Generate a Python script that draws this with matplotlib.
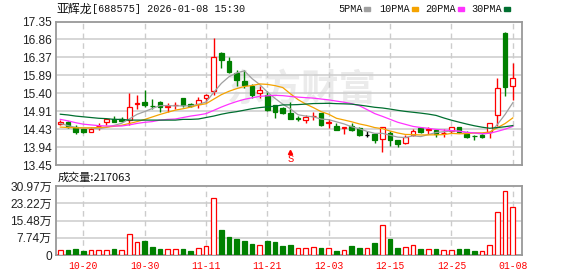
import numpy as np
import pandas as pd
import matplotlib
matplotlib.use("Agg")
import matplotlib.pyplot as plt
from matplotlib.patches import Rectangle

# daily K-line, 60 trading days (2025-10-15 .. 2026-01-08)
opens = [14.56, 14.63, 14.49, 14.42, 14.35, 14.50, 14.63, 14.71, 14.70, 14.67,
         15.12, 15.17, 15.06, 15.17, 15.02, 15.08, 15.27, 15.10, 15.12, 15.27,
         15.45, 16.50, 16.28, 15.95, 15.74, 15.59, 15.41, 15.36, 15.07, 15.01,
         14.85, 14.72, 14.67, 14.77, 14.85, 14.60, 14.52, 14.45, 14.51, 14.45,
         14.27, 14.29, 14.16, 14.32, 14.12, 14.05, 14.27, 14.45, 14.40, 14.40,
         14.31, 14.38, 14.47, 14.29, 14.24, 14.27, 14.35, 14.80, 17.04, 15.61]
highs = [14.68, 14.65, 14.54, 14.45, 14.48, 14.60, 14.70, 14.79, 14.76, 15.41,
         15.36, 15.48, 15.25, 15.18, 15.14, 15.17, 15.28, 15.13, 15.29, 15.37,
         16.91, 16.51, 16.39, 16.04, 16.02, 15.65, 15.61, 15.47, 15.08, 15.03,
         15.16, 14.77, 14.81, 14.88, 14.86, 14.70, 14.59, 14.48, 14.58, 14.48,
         14.38, 14.32, 14.48, 14.37, 14.14, 14.26, 14.43, 14.47, 14.48, 14.43,
         14.43, 14.49, 14.49, 14.38, 14.27, 14.31, 14.60, 15.81, 17.06, 16.23]
lows = [14.53, 14.45, 14.29, 14.31, 14.35, 14.40, 14.53, 14.62, 14.61, 14.54,
        14.98, 15.03, 14.98, 14.89, 14.89, 14.98, 15.03, 15.03, 15.00, 15.16,
        15.36, 16.08, 15.96, 15.61, 15.54, 15.27, 15.28, 14.92, 14.72, 14.83,
        14.69, 14.65, 14.60, 14.67, 14.50, 14.45, 14.40, 14.29, 14.38, 14.25,
        14.20, 14.04, 13.80, 13.96, 13.94, 14.03, 14.25, 14.33, 14.30, 14.22,
        14.20, 14.32, 14.33, 14.18, 14.13, 14.18, 14.18, 14.52, 15.32, 15.22]
closes = [14.63, 14.49, 14.36, 14.35, 14.44, 14.52, 14.69, 14.63, 14.64, 15.03,
          15.14, 15.07, 15.05, 15.03, 15.04, 15.09, 15.07, 15.06, 15.23, 15.36,
          16.39, 16.30, 15.97, 15.75, 15.63, 15.34, 15.50, 14.94, 14.89, 14.85,
          14.70, 14.70, 14.76, 14.79, 14.54, 14.62, 14.41, 14.47, 14.40, 14.27,
          14.27, 14.14, 14.47, 14.14, 14.02, 14.21, 14.38, 14.36, 14.42, 14.29,
          14.33, 14.47, 14.36, 14.20, 14.23, 14.20, 14.60, 15.54, 15.56, 15.81]

# volume in 万股, colour of each volume bar (r = up, g = down)
vols = [2.2, 2.2, 2.7, 1.9, 2.2, 2.2, 2.2, 2.7, 2.2, 9.4,
        5.8, 6.3, 3.7, 2.7, 2.5, 2.5, 2.7, 1.9, 3.0, 3.9,
        25.4, 11.2, 8.1, 7.2, 6.3, 5.1, 4.3, 6.3, 5.8, 4.2,
        4.5, 3.0, 3.0, 3.4, 3.0, 3.0, 1.8, 2.4, 3.9, 3.1,
        3.3, 5.4, 13.3, 7.0, 3.0, 3.7, 4.3, 2.5, 2.5, 2.5,
        2.1, 2.1, 2.5, 2.8, 1.8, 1.6, 4.3, 19.3, 28.6, 21.71]
vol_dir = "rgggrrrgrr" "rgggrrggrr" "rgggggrggg" "grrrgrgrgg" "rgrggrrgrg" "rrgggrrrrr"

# moving averages before enough bars are on screen
ma5_head = [14.58, 14.52, 14.47, 14.45]
ma10_head = [14.48, 14.47, 14.46, 14.46, 14.46, 14.47, 14.48, 14.50, 14.53]
ma20_head = [14.69, 14.65, 14.60, 14.56, 14.54, 14.52, 14.51, 14.51, 14.51, 14.54,
             14.58, 14.61, 14.63, 14.67, 14.69, 14.70, 14.74, 14.78, 14.81]
ma30_head = [14.83, 14.81, 14.78, 14.76, 14.74, 14.72, 14.71, 14.69, 14.69, 14.67,
             14.67, 14.67, 14.67, 14.67, 14.67, 14.67, 14.69, 14.69, 14.70, 14.74,
             14.78, 14.83, 14.87, 14.90, 14.94, 14.98, 15.01, 15.03, 15.05]

tick_pos = [3, 11, 19, 27, 35, 43, 51, 59]
tick_labels = ["10-20", "10-30", "11-11", "11-21", "12-03", "12-15", "12-25", "01-08"]
price_ticks = ["13.45", "13.94", "14.43", "14.91", "15.40", "15.89", "16.37", "16.86", "17.35"]
vol_ticks = ["0", "7.74万", "15.48万", "23.22万", "30.97万"]

RED = "#ff0000"
GREEN = "#008000"
GRID = "#cccccc"
FRAME = "#999999"
W, H = 578, 276

fig = plt.figure(figsize=(W / 100, H / 100), dpi=100)
fig.patch.set_facecolor("white")
ax = fig.add_axes([56 / W, (H - 165) / H, 466 / W, 143.5 / H])
ax2 = fig.add_axes([56 / W, (H - 255) / H, 466 / W, 69 / H])

x = np.arange(len(closes))
o = np.array(opens); c = np.array(closes)
cols = np.where(c > o, RED, np.where(c < o, GREEN, "#000000"))
faces = np.where(c > o, "white", cols)

# MAs
cs = pd.Series(closes)
mas = []
for n, head in [(5, ma5_head), (10, ma10_head), (20, ma20_head), (30, ma30_head)]:
    m = cs.rolling(n).mean().values
    m[:len(head)] = head
    mas.append(m)

for a in (ax, ax2):
    a.set_xlim(-0.56, 60.2)
    for t in tick_pos:
        a.axvline(t, color=GRID, lw=1.0, ls=(0, (4, 3)), zorder=1)
    for s in a.spines.values():
        s.set_color(FRAME)
        s.set_linewidth(1.3)
    a.set_xticks([])
    a.tick_params(length=0, pad=3)

# price panel
ax.set_ylim(13.45, 17.35)
yv = np.linspace(13.45, 17.35, 9)
for v in yv[1:-1]:
    ax.axhline(v, color=GRID, lw=1.1, zorder=1)
ax.set_yticks(yv)
ax.set_yticklabels(price_ticks, fontsize=8.6, color="#222222", family="Liberation Sans")

# watermark
ax.text(31.5, 15.5, "东方财富", fontsize=27, fontweight="bold", color="#ebebeb",
        ha="center", va="center", family="Noto Sans CJK SC", zorder=0.5)

ax.vlines(x, lows, highs, colors=cols, lw=1.0, zorder=3)
body = np.maximum(np.abs(c - o), 0.004)
ax.bar(x, body, bottom=np.minimum(o, c), width=0.6, facecolor=faces,
       edgecolor=cols, lw=0.9, zorder=4)

for m, col in zip(mas, ["#a0a0a0", "#f5a300", "#ff33ff", "#006f30"]):
    ax.plot(x, m, color=col, lw=0.9, zorder=5)

# sell marker
ax.text(30, 13.61, "S", color=RED, fontsize=7.5, ha="center", va="center",
        family="Liberation Mono", zorder=6)
ax.plot([30], [13.80], marker="^", ms=3, color=RED, zorder=6)

# volume panel
ax2.set_ylim(0, 30.97)
vv = np.linspace(0, 30.97, 5)
for v in vv[1:-1]:
    ax2.axhline(v, color=GRID, lw=1.1, zorder=1)
ax2.set_yticks(vv)
ax2.set_yticklabels(vol_ticks, fontsize=8.6, color="#222222",
                    family=["Liberation Sans", "Noto Sans CJK SC"])
vcols = [RED if d == "r" else GREEN for d in vol_dir]
vface = ["white" if d == "r" else GREEN for d in vol_dir]
ax2.bar(x, vols, width=0.6, facecolor=vface, edgecolor=vcols, lw=0.9, zorder=3)

for t, lab in zip(tick_pos, tick_labels):
    fig.text((60.3 + 7.67 * t) / W, 1 - 266 / H, lab, color=RED, fontsize=7,
             family="Liberation Mono", ha="center", va="center")

# header
fig.text(56 / W, 1 - 9.5 / H, "亚辉龙", fontsize=8.6, family="Noto Sans CJK SC",
         va="center", color="#111111")
fig.text(92 / W, 1 - 9.5 / H, "[688575] 2026-01-08 15:30", fontsize=7.3,
         family="Liberation Mono", va="center", color="#111111")
legend = [("5PMA", 338, 364.5, "#a0a0a0"), ("10PMA", 379, 412, "#f5a300"),
          ("20PMA", 425, 458, "#ff33ff"), ("30PMA", 471, 504, "#006f30")]
for lab, tx, sx, col in legend:
    fig.text(tx / W, 1 - 9.5 / H, lab, fontsize=7.3, family="Liberation Mono",
             va="center", color="#111111")
    fig.patches.append(Rectangle((sx / W, 1 - 10.5 / H), 6 / W, 3.5 / H,
                                 transform=fig.transFigure, color=col))

fig.text(58 / W, 1 - 178 / H, "成交量:217063", fontsize=8, family="Noto Sans CJK SC",
         va="center", color="#111111")

fig.savefig("out.png", dpi=100)
